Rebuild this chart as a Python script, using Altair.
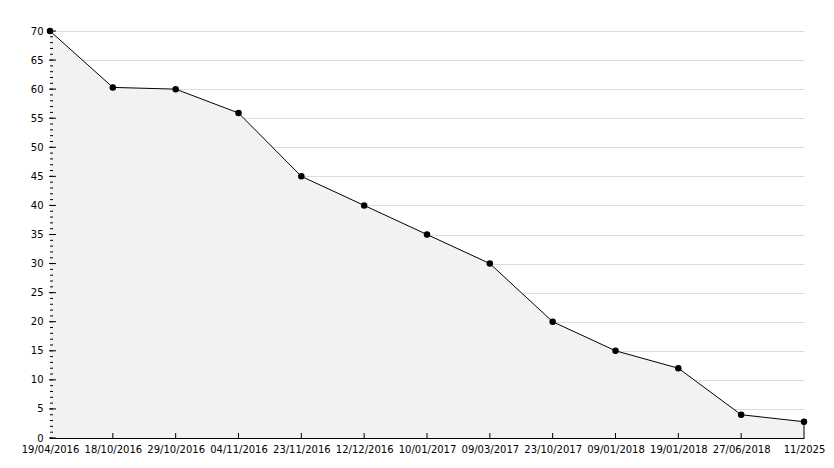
import altair as alt
import pandas as pd

dates = ["19/04/2016", "18/10/2016", "29/10/2016", "04/11/2016", "23/11/2016",
         "12/12/2016", "10/01/2017", "09/03/2017", "23/10/2017", "09/01/2018",
         "19/01/2018", "27/06/2018", "11/2025"]
values = [70, 60.3, 60.0, 55.9, 45, 40, 35, 30, 20, 15, 12, 4, 2.8]

major_ticks = list(range(0, 75, 5))
minor_ticks = list(range(0, 71, 1))

df = pd.DataFrame({"date": dates, "value": values})
df_last = df.iloc[[-1]]
df_major = pd.DataFrame({"value": major_ticks})
df_minor = pd.DataFrame({"value": minor_ticks})
df_xt = pd.DataFrame({"date": dates[1:-1]})

FONT = "DejaVu Sans"
H = 407
W = 754

xscale = alt.Scale(type="point", padding=0, domain=dates)
yscale = alt.Scale(domain=[0, 70], nice=False, zero=True)

x_axis = alt.Axis(title=None, labelAngle=0, ticks=False, labelPadding=6,
                  domainColor="black", labelFont=FONT, labelFontSize=10,
                  labelColor="black", grid=False, labelOverlap=False)
y_axis = alt.Axis(title=None, values=major_ticks, ticks=False, labelPadding=7,
                  domainColor="black", grid=True, gridColor="#dcdcdc",
                  labelFont=FONT, labelFontSize=10, labelColor="black")

X = alt.X("date:N", sort=dates, scale=xscale, axis=x_axis)
Y = alt.Y("value:Q", scale=yscale, axis=y_axis)

area = alt.Chart(df).mark_area(color="#f2f2f2", opacity=1).encode(x=X, y=Y)

line = alt.Chart(df).mark_line(color="black", strokeWidth=1).encode(x=X, y=Y)

pts = alt.Chart(df).mark_point(filled=True, color="black", size=42, opacity=1).encode(x=X, y=Y)

edge = alt.Chart(df_last).mark_rule(color="black", strokeWidth=1).encode(
    x=X, y=Y, y2=alt.datum(0))

minor = alt.Chart(df_minor).mark_rule(color="black", strokeWidth=1).encode(
    y=Y, x=alt.value(0), x2=alt.value(3))

major = alt.Chart(df_major).mark_rule(color="black", strokeWidth=1).encode(
    y=Y, x=alt.value(-1), x2=alt.value(6))

xticks = alt.Chart(df_xt).mark_rule(color="black", strokeWidth=1).encode(
    x=X, y=alt.value(H - 5), y2=alt.value(H))

chart = alt.layer(area, line, edge, minor, major, xticks, pts).properties(
    width=W, height=H,
    autosize=alt.AutoSizeParams(type="none"),
    padding={"left": 42, "top": 23, "right": 22, "bottom": 22},
).configure_view(stroke=None)

chart.save("out.html", embed_options={"renderer": "svg", "actions": False})
